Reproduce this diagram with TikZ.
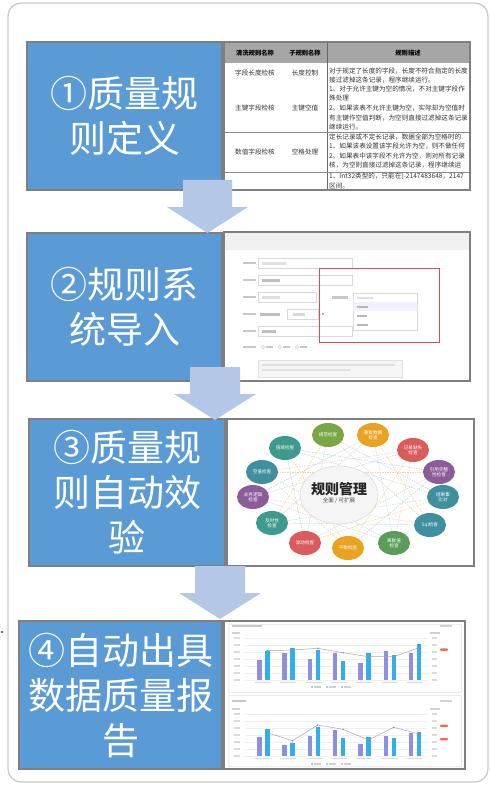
\documentclass[tikz,border=0pt]{standalone}
\usepackage{fontspec}
\newfontfamily\cjk{Noto Sans CJK SC}
\usetikzlibrary{shapes.geometric}
\definecolor{boxblue}{HTML}{5B9BD5}
\definecolor{boxgray}{HTML}{7F7F7F}
\definecolor{arrowblue}{HTML}{B4C7E7}
\definecolor{framegray}{HTML}{CACACA}
\definecolor{hdrgray}{HTML}{A6A6A6}
\definecolor{txtdark}{HTML}{333333}
\definecolor{barpurple}{HTML}{8E8FE3}
\definecolor{barcyan}{HTML}{2FAEF0}
\definecolor{markorange}{HTML}{EE6F4F}
\definecolor{redframe}{HTML}{E0475A}
\definecolor{cgreen}{HTML}{7BA646}
\definecolor{corange}{HTML}{E9A321}
\definecolor{cred}{HTML}{D95B5B}
\definecolor{cpurple}{HTML}{8B5C99}
\definecolor{cteal}{HTML}{3F8F9F}
\definecolor{cteal2}{HTML}{3D9A8C}
\definecolor{cgreen2}{HTML}{5A9C5A}
\tikzset{
  stepbox/.style={draw=boxgray, line width=2pt, fill=boxblue, text=white,
    font=\cjk\fontsize{37}{45}\selectfont, align=center, inner sep=0pt},
  shotbox/.style={draw=boxgray, line width=2pt, fill=white, inner sep=0pt},
  bigarrow/.style={fill=arrowblue, draw=none},
  tbltext/.style={font=\cjk\fontsize{6.6}{7}\selectfont, text=txtdark, inner sep=0pt},
  tblhead/.style={font=\cjk\bfseries\fontsize{6.3}{7}\selectfont, text=black, inner sep=0pt},
  blur/.style={fill=black!22},
  inbox/.style={draw=black!15, line width=0.5pt, fill=white},
  wheel/.style={ellipse, minimum width=32pt, minimum height=24pt, inner sep=0pt,
    text=white, align=center, font=\cjk\fontsize{4.6}{5.4}\selectfont},
  spoke/.style={dashed, line width=0.45pt, dash pattern=on 1.5pt off 1pt},
}
\newcommand{\blockarrow}[4]{% x-left of shaft, shaft width, y-top, tip y
  \fill[bigarrow] (#1,#3) -- ({#1+#2},#3) -- ({#1+#2},{#4-26}) -- ({#1+#2+16},{#4-26})
    -- ({#1+#2/2},#4) -- ({#1-16},{#4-26}) -- (#1,{#4-26}) -- cycle;}
\begin{document}
\begin{tikzpicture}[x=1pt,y=-1pt]
\useasboundingbox (0,0) rectangle (490,786);
\draw[framegray, line width=1.3pt, rounded corners=13pt] (8,3) rectangle (488,782);
\fill[boxblue!70!black] (2,632) circle (1.4);

% ---------- step boxes ----------
\node[stepbox, minimum width=195pt, minimum height=148pt] (b1) at (124.5,116) {①质量规\\则定义};
\node[stepbox, minimum width=195pt, minimum height=148pt] (b2) at (124.5,307) {②规则系\\统导入};
\node[stepbox, minimum width=196pt, minimum height=147pt] (b3) at (127,492.5) {③质量规\\则自动效\\验};
\node[stepbox, minimum width=203pt, minimum height=148pt] (b4) at (120.5,695) {④自动出具\\数据质量报\\告};

% ---------- screenshot 1 : table ----------
\node[shotbox, minimum width=246pt, minimum height=148pt] (s1) at (347,116) {};
\begin{scope}
\clip (225,43) rectangle (469,189);
\fill[hdrgray] (225,43) rectangle (469,63);
\node[tblhead] (h1) at (255,53) {清洗规则名称};
\node[tblhead] (h2) at (305,53) {子规则名称};
\node[tblhead] (h3) at (408,53) {规则描述};
\draw[black!60, line width=0.6pt] (327,43) -- (327,189);
\draw[black!45, line width=0.5pt] (225,132) -- (469,132);
\draw[black!45, line width=0.5pt] (225,172) -- (469,172);
\node[tbltext] (c11) at (255,73) {字段长度检核};
\node[tbltext] (c12) at (305,73) {长度控制};
\node[tbltext] (c21) at (255,108) {主键字段检核};
\node[tbltext] (c22) at (305,108) {主键空值};
\node[tbltext] (c31) at (255,152) {数值字段检核};
\node[tbltext] (c32) at (305,152) {空格处理};
\foreach \yy/\tt in {71/{对于规定了长度的字段，长度不符合指定的长度},
  80/{接过滤掉这条记录，程序继续运行。},
  89/{1、对于允许主键为空的情况，不对主键字段作},
  98/{殊处理},
  108/{2、如果该表不允许主键为空，实际却为空值时},
  118/{有主键作空值判断，为空则直接过滤掉这条记录},
  127/{继续运行。},
  137/{定长记录或不定长记录，数据全部为空格时的},
  146/{1、如果该表设置该字段允许为空，则不做任何},
  156/{2、如果表中该字段不允许为空，则对所有记录},
  165/{核，为空则直接过滤掉这条记录，程序继续运},
  176/{1、Int32类型的，只能在[-2147483648，2147},
  186/{区间。}}
  \node[tbltext, anchor=west] (d\yy) at (329,\yy) {\tt};
\end{scope}
\draw[boxgray, line width=2pt] (224,42) rectangle (470,190);

% ---------- screenshot 2 : form ----------
\node[shotbox, minimum width=246pt, minimum height=149pt] (s2) at (347,306.5) {};
\fill[black!6] (225,233) rectangle (469,250);
\foreach \yy in {263,280,297,314,331,347} \fill[blur] (243,{\yy-1.2}) rectangle (256,{\yy+1.2});
\draw[inbox] (258,258) rectangle (352,268);
\fill[black!12] (262,262) rectangle (286,264.5);
\draw[inbox] (258,275) rectangle (352,285);
\fill[black!25] (262,279) rectangle (280,281.5);
\draw[inbox] (258,292) rectangle (316,302);
\fill[black!12] (262,296) rectangle (280,298.5);
\fill[black!25] (260,313) rectangle (280,315.5);
\draw[inbox] (287,309) rectangle (318,319);
\fill[black!15] (293,313) rectangle (305,315.5);
\fill[black!30] (322,312.5) rectangle (324,315);
\draw[inbox] (258,326) rectangle (352,336);
\fill[black!25] (262,330) rectangle (276,332.5);
\foreach \xx in {263,280,297} {
  \draw[black!25, line width=0.4pt] (\xx,347) circle (1.6);
  \fill[black!22] ({\xx+3},346) rectangle ({\xx+10},348.2);}
\fill[black!4] (258,360) rectangle (402,377);
\draw[black!12, line width=0.4pt] (258,360) rectangle (402,377);
\fill[black!12] (262,364) rectangle (395,366);
\fill[black!12] (262,369) rectangle (350,371);
\draw[redframe, line width=0.9pt] (319,268) rectangle (439,342);
\fill[blur] (332,296) rectangle (348,298.5);
\draw[inbox] (353,293) rectangle (417,302);
\fill[black!12] (357,296.5) rectangle (373,298.5);
\draw[black!15, line width=0.5pt, fill=white] (353,302) rectangle (417,330);
\fill[blue!6] (353.3,302.3) rectangle (416.7,311);
\fill[black!28] (357,306) rectangle (368,308);
\fill[black!28] (357,315) rectangle (367,317);
\fill[black!28] (357,324) rectangle (368,326);
\draw[boxgray, line width=2pt] (224,232) rectangle (470,381);

% ---------- screenshot 3 : rule wheel ----------
\node[shotbox, minimum width=247pt, minimum height=147pt] (s3) at (350.5,492.5) {};
\coordinate (w1) at (328,435);
\coordinate (w2) at (373,435);
\coordinate (w3) at (413,450);
\coordinate (w4) at (439,472);
\coordinate (w5) at (443,497);
\coordinate (w6) at (430,525);
\coordinate (w7) at (394,543);
\coordinate (w8) at (348,548);
\coordinate (w9) at (305,543);
\coordinate (w10) at (272,523);
\coordinate (w11) at (253,497);
\coordinate (w12) at (262,472);
\coordinate (w13) at (285,448);
\foreach \a/\b/\cc in {1/5/cteal!40,2/6/corange!50,3/7/cred!35,4/8/cteal!40,5/9/corange!50,
  6/10/cteal!40,7/11/cred!35,8/12/corange!50,9/13/cteal!40,10/1/corange!50,11/2/cteal!40,
  12/3/cred!35,13/4/cteal!40,1/6/cgreen!40,2/7/cteal!35,3/8/corange!45,4/9/cpurple!30,
  5/10/cteal!35,6/11/cred!30,7/12/cteal!35,8/13/corange!45,9/1/cteal!35,10/2/cred!30,
  11/3/cteal!35,12/4/corange!45,13/5/cteal!35}
  \draw[spoke, \cc] (w\a) -- (w\b);
\node[ellipse, minimum width=78pt, minimum height=58pt, fill=black!4, draw=black!14,
  line width=0.6pt, inner sep=0pt] (core) at (339,495) {};
\node[font=\cjk\bfseries\fontsize{14}{15}\selectfont, text=black!85, inner sep=0pt] (coret) at (339,489) {规则管理};
\node[font=\cjk\fontsize{5.5}{6}\selectfont, text=black!70, inner sep=0pt] (cores) at (339,501) {全面 / 可扩展};
\node[wheel, fill=cgreen] (n1) at (w1) {规范检查};
\node[wheel, fill=corange] (n2) at (w2) {重复数据\\检查};
\node[wheel, fill=cred] (n3) at (w3) {记录缺失\\检查};
\node[wheel, fill=cpurple] (n4) at (w4) {引用完整\\性检查};
\node[wheel, fill=cteal] (n5) at (w5) {结果集\\比对};
\node[wheel, fill=cteal] (n6) at (w6) {Sql检查};
\node[wheel, fill=cgreen2] (n7) at (w7) {离群值\\检查};
\node[wheel, fill=corange] (n8) at (w8) {平衡检查};
\node[wheel, fill=cred] (n9) at (w9) {波动检查};
\node[wheel, fill=cteal2] (n10) at (w10) {及时性\\检查};
\node[wheel, fill=cpurple] (n11) at (w11) {业务逻辑\\检查};
\node[wheel, fill=cteal] (n12) at (w12) {空值检查};
\node[wheel, fill=cteal2] (n13) at (w13) {值域检查};

% ---------- screenshot 4 : charts ----------
\node[shotbox, minimum width=241pt, minimum height=148pt] (s4) at (344.5,695) {};
\draw[black!8, line width=0.5pt] (228,624) rectangle (461,692);
\draw[black!8, line width=0.5pt] (228,695) rectangle (461,766);
\fill[black!22] (232,625) rectangle (262,627);
\fill[black!18] (440,625) rectangle (452,627);
\fill[black!22] (232,700) rectangle (246,702);
\fill[black!18] (440,700) rectangle (452,702);
\fill[black!18] (232,632) rectangle (240,633.5);
\fill[black!18] (430,632) rectangle (440,633.5);
\fill[black!18] (232,708) rectangle (240,709.5);
\fill[black!18] (430,708) rectangle (440,709.5);
\foreach \yy in {638,645,652,659,666,673,680} {
  \draw[black!6, line width=0.3pt] (245,\yy) -- (427,\yy);
  \fill[black!14] (234,{\yy-0.6}) rectangle (240,{\yy+0.6});
  \fill[black!14] (432,{\yy-0.6}) rectangle (437,{\yy+0.6});}
\foreach \yy in {714,721,728,735,742,749,756} {
  \draw[black!6, line width=0.3pt] (245,\yy) -- (427,\yy);
  \fill[black!14] (234,{\yy-0.6}) rectangle (240,{\yy+0.6});
  \fill[black!14] (432,{\yy-0.6}) rectangle (437,{\yy+0.6});}
\foreach \i/\p/\c in {0/660/650.7,1/653.3/648.3,2/659/650,3/653.3/660.7,4/662.7/653.3,5/650.7/655,6/653.3/644} {
  \pgfmathsetmacro\xx{257+25.3*\i}
  \fill[barpurple] (\xx,680) rectangle ({\xx+4.5},\p);
  \fill[barcyan] ({\xx+8},680) rectangle ({\xx+12.5},\c);
  \fill[black!15] ({\xx-2},682) rectangle ({\xx+14},683.2);}
\draw[black!35, line width=0.5pt] plot coordinates {(267.2,650.7) (292.5,650) (317.8,648.3) (343.1,652.7) (368.4,656.7) (393.7,656.7) (419,647.7)};
\foreach \px/\py in {267.2/650.7,292.5/650,317.8/648.3,343.1/652.7,368.4/656.7,393.7/656.7,419/647.7}
  \fill[black!45] (\px,\py) circle (0.8);
\fill[markorange, rounded corners=1pt] (440,648.3) rectangle (448,650.8);
\foreach \xx in {312,327,342} {\fill[barcyan] (\xx,687) circle (0.8); \fill[black!18] ({\xx+2},686.4) rectangle ({\xx+9},687.6);}
\foreach \i/\p/\c in {0/736.7/729,1/745/742.7,2/735.7/726.7,3/730/737.7,4/744/737.3,5/736/738.3,6/732.7/731.7} {
  \pgfmathsetmacro\xx{257+25.3*\i}
  \fill[barpurple] (\xx,756) rectangle ({\xx+4.5},\p);
  \fill[barcyan] ({\xx+8},756) rectangle ({\xx+12.5},\c);
  \fill[black!15] ({\xx-2},758) rectangle ({\xx+14},759.2);}
\draw[black!35, line width=0.5pt] plot coordinates {(267.2,732.7) (292.5,740.7) (317.8,725) (343.1,729.3) (368.4,740) (393.7,727.3) (419,734)};
\foreach \px/\py in {267.2/732.7,292.5/740.7,317.8/725,343.1/729.3,368.4/740,393.7/727.3,419/734}
  \fill[black!45] (\px,\py) circle (0.8);
\fill[markorange, rounded corners=1pt] (440,724.5) rectangle (448,727);
\fill[markorange, rounded corners=1pt] (440,737.8) rectangle (448,740.3);
\foreach \xx in {312,327,342} {\fill[barcyan] (\xx,764) circle (0.8); \fill[black!18] ({\xx+2},763.4) rectangle ({\xx+9},764.6);}
\draw[boxgray, line width=2pt] (224,621) rectangle (465,769);

% ---------- block arrows ----------
\blockarrow{183}{49}{180}{233}
\blockarrow{190}{50}{367}{420}
\blockarrow{195}{50}{566}{619}
\end{tikzpicture}
\end{document}
